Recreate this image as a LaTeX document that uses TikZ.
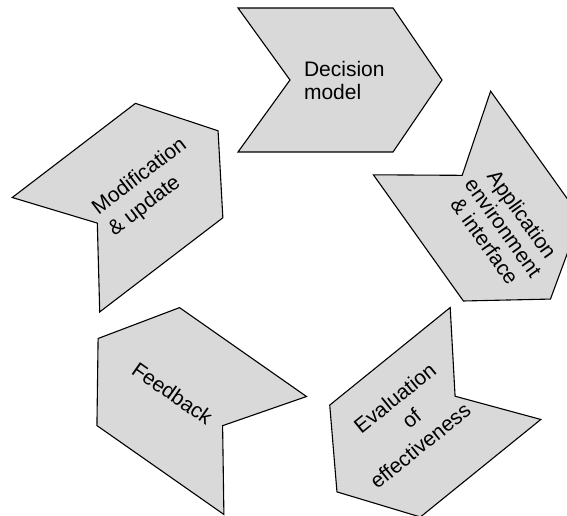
\documentclass[tikz,border=0pt]{standalone}
\usepackage{fontspec}
\setmainfont{Liberation Sans}
\begin{document}
\begin{tikzpicture}[x=1pt,y=1pt,
  chevron/.style={draw=black, fill={rgb,255:red,217;green,217;blue,217}, line width=1.1pt, line join=miter},
  label/.style={font=\fontsize{21}{23}\selectfont, inner sep=0pt},
  widelabel/.style={font=\fontsize{21}{26.5}\selectfont, inner sep=0pt}]
\useasboundingbox (0,0) rectangle (567,515);
\clip (0,0) rectangle (567,515);
% one chevron in its own frame: notched back at x=0, tip at x=204
\newcommand{\chevronpath}{(0,72) -- (155,72) -- (204,0) -- (155,-72) -- (0,-72) -- (52,0) -- cycle}
\begin{scope}[shift={(238,435)}]
  \draw[chevron] \chevronpath;
\end{scope}
\begin{scope}[shift={(432,382)}, rotate=-54.5]
  \draw[chevron] \chevronpath;
\end{scope}
\begin{scope}[shift={(495.5,151.5)}, rotate=-141]
  \draw[chevron] \chevronpath;
\end{scope}
\begin{scope}[shift={(265.2,59.5)}, rotate=-215]
  \draw[chevron] \chevronpath;
\end{scope}
\begin{scope}[shift={(56,260.3)}, rotate=37.4]
  \draw[chevron] \chevronpath;
\end{scope}
% labels
\node[label, align=left] (dec) at (344.3,434.2) {Decision\\model};
\node[label, align=center, rotate=-54.5] (app) at (503.5,287.5) {Application\\environment\\\& interface};
\node[widelabel, align=center, rotate=39] (eva) at (411.5,96.5) {Evaluation\\of\\\hspace*{-21pt}effectiveness};
\node[label, rotate=-35] (fee) at (172.5,121.7) {Feedback};
\node[widelabel, align=left, rotate=37.4] (mod) at (147.9,327.7) {Modification\\\& update};
\end{tikzpicture}
\end{document}
